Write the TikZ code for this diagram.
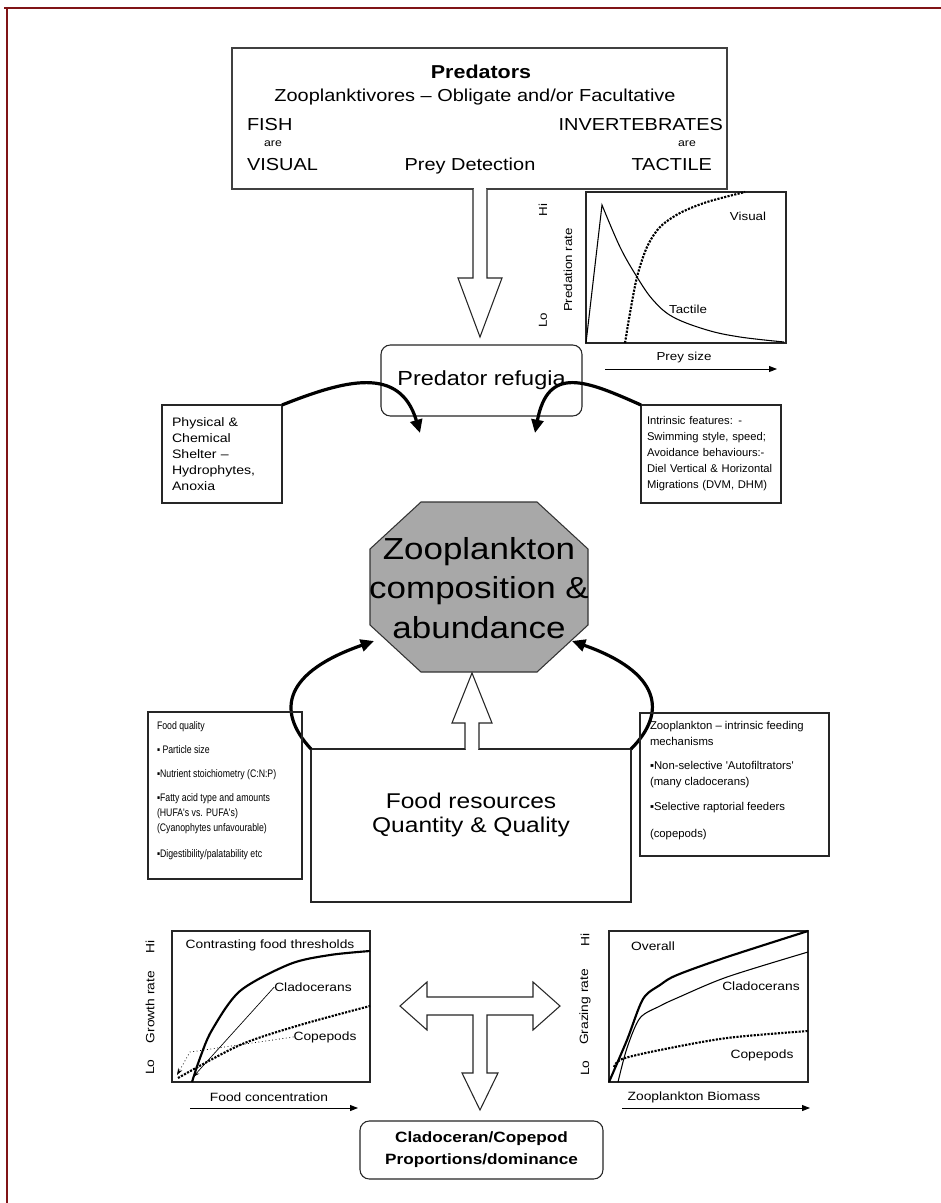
\documentclass[tikz,border=0pt]{standalone}
\usepackage{fontspec}
\setmainfont{Liberation Sans}[FakeStretch=1.15]
\newfontfamily\plainsans{Liberation Sans}
\newfontfamily\narrowsans{Liberation Sans}[FakeStretch=0.8]
\usetikzlibrary{arrows.meta,calc}
\definecolor{framered}{RGB}{128,20,22}
\definecolor{octgray}{RGB}{168,168,168}
\newcommand{\fsz}[2]{\fontsize{#1}{#2}\selectfont}
\begin{document}
\begin{tikzpicture}[x=0.75pt,y=-0.75pt,
  every node/.style={inner sep=0pt, outer sep=0pt},
  frame/.style={draw=framered, line width=2.2pt},
  box/.style={draw=black!85, line width=0.8pt},
  thickarr/.style={line width=2.4pt, -{Triangle[length=10pt,width=9pt]}},
  axisarr/.style={line width=0.7pt, -{Triangle[length=6pt,width=4.5pt]}},
  hollow/.style={draw=black!85, line width=0.8pt, fill=white, line join=miter},
  gtxt/.style={font=\fsz{8.7}{10}},
  btxt/.style={font=\fsz{9}{10}}]

\useasboundingbox (0,0) rectangle (941,1203);
\fill[white] (0,0) rectangle (941,1203);
\draw[frame] (4,8) -- (941,8);
\draw[frame] (7,8) -- (7,1203);

% ---------- Predators box
\node[box, draw=black!75, line width=1.3pt, anchor=north west, minimum width=371.25pt, minimum height=105.75pt] (pred) at (232,48) {};
\node[font=\bfseries\fsz{14}{16}] (predtitle) at (481,72) {Predators};
\node[font=\fsz{13}{15}] (zoopl) at (475,97) {Zooplanktivores – Obligate and/or Facultative};
\node[font=\fsz{13}{15}, anchor=base west] (fish) at (247,130) {FISH};
\node[font=\fsz{13}{15}, anchor=base east] (invert) at (723,130) {INVERTEBRATES};
\node[font=\fsz{8}{9}, anchor=base] (are1) at (273,146) {are};
\node[font=\fsz{8}{9}, anchor=base] (are2) at (687,146) {are};
\node[font=\fsz{13}{15}, anchor=base west] (visual) at (247,170) {VISUAL};
\node[font=\fsz{13}{15}, anchor=base] (preydet) at (470,170) {Prey Detection};
\node[font=\fsz{13}{15}, anchor=base east] (tactile) at (712,170) {TACTILE};

% ---------- top graph
\node[box, anchor=north west, minimum width=150pt, minimum height=113.25pt] (g1) at (586,192) {};
\draw[line width=0.8pt] (586,343) -- plot[smooth, tension=0.6] coordinates {(602,205) (620,247) (637,277) (653,300) (673,317) (707,330) (740,337) (784,342)};
\draw[line width=1.6pt, densely dotted] plot[smooth] coordinates {(625,343) (630,313) (637,277) (647,247) (660,227) (680,213) (707,202) (745,192)};
\node[gtxt] (lvis) at (748,216) {Visual};
\node[gtxt] (ltac) at (688,309) {Tactile};
\node[gtxt, rotate=90] (prate) at (568,270) {Predation rate};
\node[gtxt, rotate=90] (hi1) at (543,210) {Hi};
\node[gtxt, rotate=90] (lo1) at (543,320) {Lo};
\node[gtxt] (preysize) at (684,357) {Prey size};
\coordinate (ps0) at (605,369);
\coordinate (ps1) at (777,369);
\draw[axisarr] (ps0) -- (ps1);

% ---------- top hollow arrow
\fill[white] (474,186) rectangle (486,192);
\draw[hollow] (473,189) -- (473,278) -- (458,278) -- (480,337) -- (502,278) -- (487,278) -- (487,189);

% ---------- refugia
\node[box, rounded corners=7pt, anchor=north west, minimum width=150.75pt, minimum height=53.25pt, font=\fsz{15.3}{17}] (refug) at (381,345) {Predator refugia};

% ---------- side boxes
\node[box, anchor=north west, minimum width=90pt, minimum height=73.5pt, text width=75pt, inner xsep=7.5pt, align=left, font=\fsz{9.2}{12}] (phys) at (162,405) {Physical \&\\Chemical\\Shelter –\\Hydrophytes,\\Anoxia};
\node[box, anchor=north west, minimum width=105pt, minimum height=73.5pt, text width=96pt, inner xsep=4.5pt, align=left, font=\plainsans\fsz{8.4}{12}] (intr) at (641,405) {Intrinsic features: -\\Swimming style, speed;\\Avoidance behaviours:-\\Diel Vertical \& Horizontal\\Migrations (DVM, DHM)};

% ---------- octagon
\filldraw[fill=octgray, draw=black!80, line width=0.8pt] (421,502) -- (537,502) -- (588,549) -- (588,625) -- (537,672) -- (421,672) -- (370,625) -- (370,549) -- cycle;
\node[font=\fsz{22.8}{29.5}, align=center] (zoo) at (479,588) {Zooplankton\\composition \&\\abundance};

% ---------- curved arrows (top)
\coordinate (t1) at (420,433);
\coordinate (t2) at (535,433);
\draw[thickarr] (phys.north east) .. controls (345,380) and (400,365) .. (t1);
\draw[thickarr] (intr.north west) .. controls (585,380) and (548,365) .. (t2);

% ---------- food box
\node[box, anchor=north west, minimum width=240pt, minimum height=114.75pt] (food) at (311,749) {};
\node[font=\fsz{16}{18}, align=center] (foodt) at (471,815) {Food resources\\Quantity \& Quality};

% up hollow arrow
\fill[white] (466,746) rectangle (478,752);
\draw[hollow] (465,749) -- (465,723) -- (452,723) -- (472,673) -- (492,723) -- (479,723) -- (479,749);

% curved arrows (bottom)
\coordinate (t3) at (374,641);
\coordinate (t4) at (572,641);
\draw[thickarr] (food.north west) .. controls (275,710) and (285,672) .. (t3);
\draw[thickarr] (food.north east) .. controls (668,712) and (660,672) .. (t4);

% ---------- food quality box
\node[box, anchor=north west, minimum width=115.5pt, minimum height=125.25pt] (fq) at (148,712) {};
\node[anchor=north west, align=left, font=\narrowsans\fsz{8.2}{10.9}] (fqt) at (157,722) {Food quality\\[7.1pt]▪ Particle size\\[7.1pt]▪Nutrient stoichiometry (C:N:P)\\[7.1pt]▪Fatty acid type and amounts\\(HUFA's vs. PUFA's)\\(Cyanophytes unfavourable)\\[8.6pt]▪Digestibility/palatability etc};

% ---------- feeding box
\node[box, anchor=north west, minimum width=141.75pt, minimum height=107.25pt] (feed) at (640,713) {};
\node[anchor=north west, align=left, font=\plainsans\fsz{8.5}{12}] (feedt) at (650,721) {Zooplankton – intrinsic feeding\\mechanisms\\[6pt]▪Non-selective 'Autofiltrators'\\(many cladocerans)\\[6.75pt]▪Selective raptorial feeders\\[8.25pt](copepods)};

% ---------- bottom left graph
\node[box, anchor=north west, minimum width=148.5pt, minimum height=113.25pt] (g2) at (172,931) {};
\draw[line width=1.6pt] plot[smooth] coordinates {(192,1082) (200,1058) (212,1030) (240,991) (290,964) (330,955) (370,951)};
\draw[line width=1.6pt, densely dotted] plot[smooth] coordinates {(178,1078) (240,1045) (300,1025) (370,1006)};
\node[btxt] (cft) at (270,945) {Contrasting food thresholds};
\node[btxt] (clad1) at (313,987) {Cladocerans};
\node[btxt] (cope1) at (325,1037) {Copepods};
\draw[line width=0.5pt, -{Stealth[length=5pt,width=3.5pt]}] (clad1.west) -- (193,1077);
\draw[line width=0.6pt, dotted, -{Stealth[length=5pt,width=3.5pt]}] (cope1.west) -- (190,1052) -- (177,1075);
\node[btxt, rotate=90] (grate) at (150,1007) {Growth rate};
\node[btxt, rotate=90] (hi2) at (150,947) {Hi};
\node[btxt, rotate=90] (lo2) at (150,1067) {Lo};
\node[btxt] (foodc) at (269,1097) {Food concentration};
\coordinate (fc0) at (190,1108);
\coordinate (fc1) at (358,1108);
\draw[axisarr] (fc0) -- (fc1);

% ---------- bottom right graph
\node[box, anchor=north west, minimum width=149.25pt, minimum height=113.25pt] (g3) at (609,931) {};
\draw[line width=1.6pt] plot[smooth] coordinates {(609,1082) (627,1040) (643,999) (660,985) (677,975) (727,957) (808,931)};
\draw[line width=0.8pt] plot[smooth] coordinates {(618,1082) (627,1048) (640,1018) (660,1006) (677,998) (727,977) (808,952)};
\draw[line width=1.6pt, densely dotted] plot[smooth] coordinates {(614,1067) (622,1059) (660,1050) (727,1038) (808,1031)};
\node[btxt] (over) at (653,946) {Overall};
\node[btxt] (clad2) at (761,986) {Cladocerans};
\node[btxt] (cope2) at (762,1055) {Copepods};
\node[btxt, rotate=90] (gzr) at (585,1007) {Grazing rate};
\node[btxt, rotate=90] (hi3) at (585,940) {Hi};
\node[btxt, rotate=90] (lo3) at (585,1068) {Lo};
\node[btxt] (zbio) at (694,1097) {Zooplankton Biomass};
\coordinate (zb0) at (622,1108);
\coordinate (zb1) at (810,1108);
\draw[axisarr] (zb0) -- (zb1);

% ---------- T arrow
\draw[hollow] (400,1006) -- (427,982) -- (427,997) -- (533,997) -- (533,982) -- (560,1006) -- (533,1030) -- (533,1015) -- (487,1015) -- (487,1073) -- (498,1073) -- (480,1110) -- (462,1073) -- (473,1073) -- (473,1015) -- (427,1015) -- (427,1030) -- cycle;

% ---------- bottom box
\node[box, rounded corners=7pt, anchor=north west, minimum width=182.25pt, minimum height=43.5pt, font=\bfseries\fsz{11.2}{16.5}, align=center] (cc) at (360,1121) {Cladoceran/Copepod\\Proportions/dominance};
\end{tikzpicture}
\end{document}
